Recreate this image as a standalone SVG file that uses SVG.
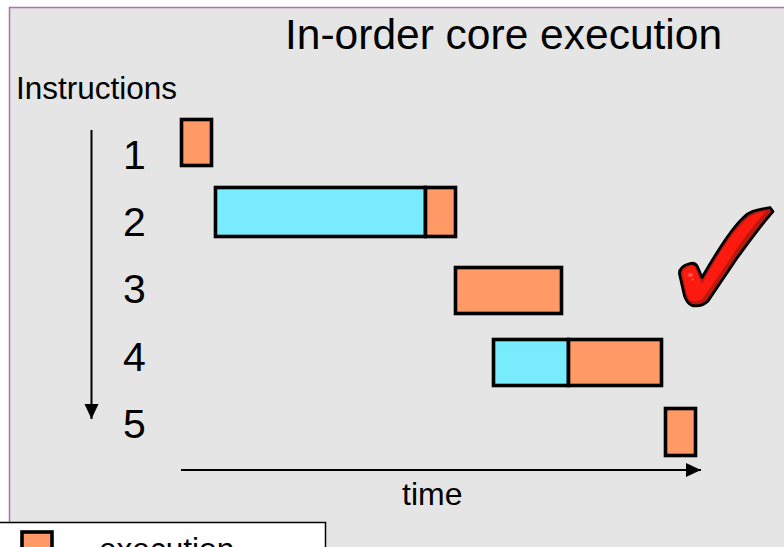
<svg xmlns="http://www.w3.org/2000/svg" width="784" height="547" viewBox="0 0 784 547">
<style>
text{font-family:"Liberation Sans",Arial,sans-serif;fill:#000}
.n{font-size:41px}
.o{fill:#ff9966;stroke:#000;stroke-width:3.6}
.c{fill:#78ecfc;stroke:#000;stroke-width:3.6}
.l{stroke:#000;stroke-width:2;fill:none}
</style>
<defs><marker id="a" markerWidth="16" markerHeight="16" refX="15" refY="7" orient="auto" markerUnits="userSpaceOnUse"><path d="M0 0L15 7L0 14Z" fill="#000"/></marker></defs>
<rect width="784" height="547" fill="#fff"/>
<rect id="panel" x="9.500" y="7.500" width="790" height="560" fill="#e5e5e5" stroke="#b26cb6" stroke-width="1.500"/>
<text x="285" y="49" font-size="42.500">In-order core execution</text>
<text x="16" y="99" font-size="31.500">Instructions</text>
<g id="labels">
<text class="n" x="123" y="169">1</text>
<text class="n" x="123" y="236">2</text>
<text class="n" x="123" y="303">3</text>
<text class="n" x="123" y="371">4</text>
<text class="n" x="123" y="438">5</text>
</g>
<g id="connectors">
<line class="l" x1="91.500" y1="130" x2="91.500" y2="419" marker-end="url(#a)"/>
<line class="l" x1="181" y1="470" x2="701" y2="470" marker-end="url(#a)"/>
</g>
<text x="402" y="505" font-size="32">time</text>
<g id="i1"><rect class="o" x="181.500" y="119.500" width="30" height="46"/></g>
<g id="i2"><rect class="c" x="215.500" y="187.500" width="210" height="49"/><rect class="o" x="425.500" y="187.500" width="30" height="49"/></g>
<g id="i3"><rect class="o" x="455.500" y="267.500" width="106" height="46"/></g>
<g id="i4"><rect class="c" x="493.500" y="339.500" width="75" height="46"/><rect class="o" x="568.500" y="339.500" width="93" height="46"/></g>
<g id="i5"><rect class="o" x="665.500" y="408.500" width="30" height="47"/></g>
<g id="check">
<path d="M679.500 274C679 268 684 265 690 263.500C695 262.500 697 265 698 268L702 277.500C715 255 730 230 743 218C749 211 757 210 770 207.500L773 211.500C760 226 748 243 737 258L708 301C704 305 698 306.500 692 305.500C688 304 686 300 684.500 296Z" fill="#b81a10" stroke="#000" stroke-width="2.800" stroke-linejoin="round"/>
<path d="M682.500 274C682 270 686 267 690 266C694 265 695 267 696 270L702 284C716 258 732 232 745 221C750 215 757 213 766 211C752 227 738 246 728 262L704 297C700 302 694 302 690 300C688 298 687 294 686 291Z" fill="#ff1a10"/>
<ellipse cx="690.500" cy="275" rx="2.500" ry="2" fill="#ff5a4a"/>
<circle cx="692.500" cy="279.500" r="1" fill="#ff5a4a"/>
</g>
<g id="legend">
<rect x="-2" y="522.500" width="327.500" height="40" fill="#fff" stroke="#000" stroke-width="1.500"/>
<rect class="o" x="22" y="532" width="30" height="30"/>
<text x="99" y="560" font-size="31.600">execution</text>
</g>
</svg>
